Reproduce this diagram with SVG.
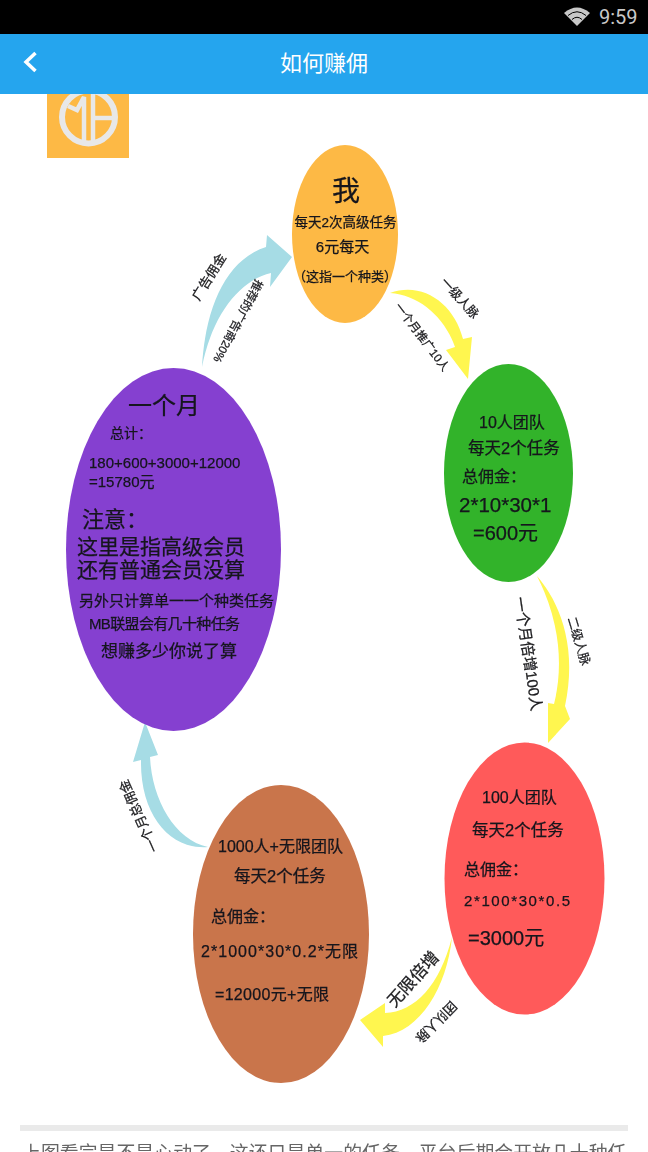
<svg xmlns="http://www.w3.org/2000/svg" width="648" height="1152" viewBox="0 0 648 1152">
<defs>
<filter id="soft" x="-5%" y="-5%" width="110%" height="110%"><feGaussianBlur stdDeviation="0.45"/></filter>
</defs>
<style>
text{font-family:"Liberation Sans","Noto Sans CJK SC",sans-serif;fill:#14141c;stroke:#14141c;stroke-width:.25}
.blue{fill:#A6DCE5}
.yellow{fill:#FFF64F}
.lab{text-anchor:middle;fill:#222}
.c{text-anchor:middle}
</style>
<rect width="648" height="1152" fill="#fff"/>
<g id="diagram" filter="url(#soft)">
<g id="logo">
<rect x="47" y="90" width="82" height="68" fill="#FDB945"/>
<circle cx="88.500" cy="117" r="26.500" fill="none" stroke="#E8E8E8" stroke-width="6"/>
<path d="M68,106 L77,110 L84,97 L84,145 M93,92 L93,145 M93,118 L113,118" fill="none" stroke="#E8E8E8" stroke-width="4.500"/>
</g>
<g id="connectors">
<path class="blue" d="M202,367 C205,310 225,260 266,247 L267,235 L292,257 L270,287 L271,273 C240,280 212,315 202,367 Z"/>
<path class="yellow" d="M390,293 C422,281 454,303 463,339 L472,337 L468,379 L446,350 L455,347 C445,318 420,295 390,293 Z"/>
<path class="yellow" d="M537,576 C562,605 577,650 565,706 L570,719 L548,743 L548,703 L554,704 C565,660 557,615 537,576 Z"/>
<path class="yellow" d="M452,937 C447,987 420,1032 383,1036 L383,1047 L360,1020 L385,1003 L385,1013 C415,1012 440,985 452,937 Z"/>
<path class="blue" d="M145,722 L158,755 L150,757 C152,800 175,840 208,847 C170,850 140,815 141,760 L133,762 Z"/>
<text class="lab" font-size="13" transform="translate(209,277) rotate(-58)" y="4.500">广告佣金</text>
<text class="lab" font-size="11.500" transform="translate(238,321) rotate(118)" y="4">推荐的广告商20%</text>
<text class="lab" font-size="12.500" transform="translate(460,298) rotate(48)" y="4.500">一级人脉</text>
<text class="lab" font-size="11.500" transform="translate(422,337) rotate(53)" y="4">一个月推广10人</text>
<text class="lab" font-size="12.500" transform="translate(579,641) rotate(73)" y="4.500">二级人脉</text>
<text class="lab" font-size="15" transform="translate(528,654) rotate(81.500)" y="5">一个月倍增100人</text>
<text class="lab" font-size="17" transform="translate(413,979) rotate(-48)" y="6">无限倍增</text>
<text class="lab" font-size="13" transform="translate(436,1022) rotate(135)" y="4.500">团队人脉</text>
<text class="lab" font-size="13" transform="translate(139,816) rotate(246)" y="4.500">一个月总佣金</text>
</g>
<g id="node-me">
<ellipse cx="345" cy="234" rx="53" ry="89" fill="#FDB945"/>
<text class="c" x="346" y="201" font-size="28">我</text>
<text class="c" x="345.500" y="227" font-size="13.500">每天2次高级任务</text>
<text class="c" x="342.500" y="252" font-size="15">6元每天</text>
<text class="c" x="345" y="281" font-size="13">（这指一个种类）</text>
</g>
<g id="node-10">
<ellipse cx="508.500" cy="473" rx="64.500" ry="109" fill="#33B32B"/>
<text x="479" y="428" font-size="16">10人团队</text>
<text x="468" y="454" font-size="16.500">每天2个任务</text>
<text x="462" y="482" font-size="16">总佣金：</text>
<text x="459" y="512" font-size="20.500">2*10*30*1</text>
<text x="473" y="540" font-size="20">=600元</text>
</g>
<g id="node-100">
<ellipse cx="524.500" cy="878.500" rx="80" ry="136" fill="#FF5A5A"/>
<text x="482" y="803" font-size="16">100人团队</text>
<text x="472" y="836" font-size="16.500">每天2个任务</text>
<text x="464" y="875" font-size="16">总佣金：</text>
<text x="464" y="906" font-size="15" textLength="106">2*100*30*0.5</text>
<text x="468" y="945" font-size="20">=3000元</text>
</g>
<g id="node-1000">
<ellipse cx="281" cy="934" rx="88" ry="149" fill="#C9744B"/>
<text x="218" y="852" font-size="16">1000人+无限团队</text>
<text x="234" y="882" font-size="16.500">每天2个任务</text>
<text x="211" y="922" font-size="16">总佣金：</text>
<text x="201" y="957" font-size="16" textLength="157">2*1000*30*0.2*无限</text>
<text x="215" y="1000" font-size="16" textLength="114">=12000元+无限</text>
</g>
<g id="node-month">
<ellipse cx="173.500" cy="549.500" rx="107.500" ry="181.500" fill="#8540D0"/>
<text x="128" y="414" font-size="24">一个月</text>
<text x="110" y="438" font-size="14">总计：</text>
<text x="89" y="468" font-size="15">180+600+3000+12000</text>
<text x="89" y="487" font-size="15">=15780元</text>
<text x="82" y="527" font-size="22">注意：</text>
<text x="77" y="554" font-size="21">这里是指高级会员</text>
<text x="77" y="577" font-size="21">还有普通会员没算</text>
<text x="79" y="606" font-size="15">另外只计算单一一个种类任务</text>
<text x="89" y="629" font-size="15" textLength="151">MB联盟会有几十种任务</text>
<text x="101" y="657" font-size="17">想赚多少你说了算</text>
</g>
<g id="footer">
<rect x="20" y="1125" width="608" height="6" fill="#EAEAEA"/>
<text x="22" y="1160" font-size="18.900" style="fill:#666;stroke:none">上图看完是不是心动了，这还只是单一的任务，平台后期会开放几十种任</text>
</g>
</g>
<g id="header">
<rect x="0" y="0" width="648" height="34" fill="#000"/>
<rect x="0" y="34" width="648" height="60" fill="#25A5EE"/>
<path d="M35.500,53 L26,62 L35.500,71" fill="none" stroke="#fff" stroke-width="3.500"/>
<text class="c" x="324" y="71" font-size="22" style="fill:#fff;stroke:none">如何赚佣</text>
<path d="M564,13 Q577,2 590,13 L577,26 Z" fill="#C8C8C8"/>
<path d="M568,15.500 Q577,8 586,15.500 M572,19.500 Q577,15 582,19.500" fill="none" stroke="#000" stroke-width="1"/>
<text x="599" y="24" font-size="20" style="font-family:Roboto,sans-serif;fill:#C8C8C8;stroke:none">9:59</text>
</g>
</svg>
